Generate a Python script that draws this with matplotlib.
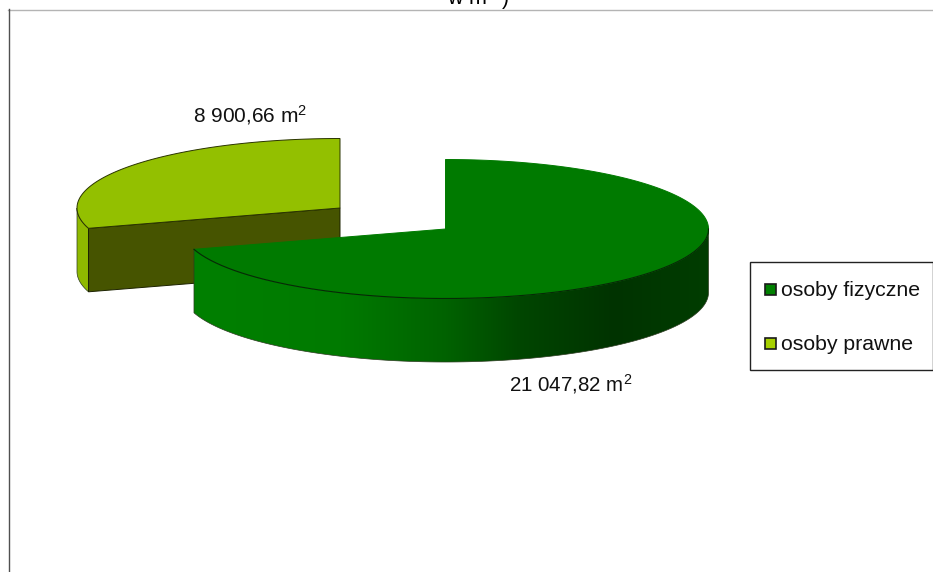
import numpy as np
import matplotlib
matplotlib.use('Agg')
import matplotlib.pyplot as plt
from matplotlib.colors import LinearSegmentedColormap
from matplotlib.patches import Polygon, Rectangle

plt.rcParams['font.family'] = ['Liberation Sans', 'DejaVu Sans']
plt.rcParams['mathtext.default'] = 'regular'

categories = ['osoby fizyczne', 'osoby prawne']
areas = [21047.82, 8900.66]
value_labels = ['21 047,82 m$^2$', '8 900,66 m$^2$']
title_tail = 'w m$^2$ )'

top_colors = ['#007a00', '#93c000']
legend_colors = ['#008000', '#a6d000']
cut_color = '#465400'
side_yellow = '#8fb900'

# pie geometry in pixels, second slice is pulled out to upper left
centers = [(445.5, 229), (340, 208)]
RX, RY, DEPTH = 263, 69.5, 63.5


def rim(center, start, stop, n=200):
    # angles clockwise from 12 o'clock
    ang = np.radians(np.linspace(start, stop, n))
    return center[0] + RX * np.sin(ang), center[1] - RY * np.cos(ang)


def outer_side(ax, center, start, stop, color):
    x, y = rim(center, start, stop)
    pts = np.r_[np.c_[x, y], np.c_[x[::-1], y[::-1] + DEPTH]]
    return ax.add_patch(Polygon(pts, closed=True, fc=color, ec='#2c3a20', lw=0.5))


def top_face(ax, center, start, stop, color, edge):
    x, y = rim(center, start, stop)
    pts = np.r_[[center], np.c_[x, y]]
    return ax.add_patch(Polygon(pts, closed=True, fc=color, ec=edge, lw=0.7))


fig = plt.figure(figsize=(9.33, 5.72), dpi=100)
ax = fig.add_axes([0, 0, 1, 1])
ax.set_xlim(0, 933)
ax.set_ylim(572, 0)
ax.axis('off')

# frame of the plot area
ax.plot([8, 933], [9.5, 9.5], color='#b4b4b4', lw=1)
ax.plot([8.5, 8.5], [9, 572], color='#505050', lw=1)

sweep = 360 * areas[0] / sum(areas)

# slice two, behind
c = centers[1]
outer_side(ax, c, sweep, 270, side_yellow)
x0, y0 = rim(c, sweep, sweep, 1)
face = [(x0[0], y0[0]), c, (c[0], c[1] + DEPTH), (x0[0], y0[0] + DEPTH)]
ax.add_patch(Polygon(face, closed=True, fc=cut_color, ec='#1c2200', lw=0.7))
top_face(ax, c, sweep, 360, top_colors[1], '#2a3400')

# slice one with shaded side
c = centers[0]
side = outer_side(ax, c, 90, sweep, 'none')
shade = LinearSegmentedColormap.from_list('side', [
    (0.0, '#008000'), (0.30, '#007a00'), (0.50, '#006200'), (0.64, '#004600'),
    (0.82, '#003300'), (1.0, '#003d00')])
grad = ax.imshow(np.linspace(0, 1, 256)[None, :], cmap=shade, aspect='auto',
                 extent=(c[0] - RX, c[0] + RX, 572, 0), zorder=1.5)
grad.set_clip_path(side)
side.set_zorder(1.6)
ax.set_xlim(0, 933)
ax.set_ylim(572, 0)
top_face(ax, c, 0, sweep, top_colors[0], top_colors[0]).set_zorder(1.7)
# only the front rim of the green top has a dark line
x1, y1 = rim(c, 90, sweep)
ax.plot(x1, y1, color='#062a06', lw=0.8, zorder=1.8)

# value labels
ax.text(250.5, 122, value_labels[1], fontsize=15, ha='center', va='baseline', color='#111111')
ax.text(571, 391, value_labels[0], fontsize=14.8, ha='center', va='baseline', color='#111111')

# cut off title line
ax.text(478.5, 5, title_tail, fontsize=15.5, ha='center', va='baseline', color='black')

# legend
ax.add_patch(Rectangle((749.5, 262), 183, 108, fc='white', ec='#222222', lw=1))
for name, col, y in zip(categories, legend_colors, [289, 343]):
    ax.add_patch(Rectangle((765, y - 5.5), 11, 11, fc=col, ec='#1a1a1a', lw=1.2))
    ax.text(781, y + 7.5, name, fontsize=15.3, ha='left', va='baseline', color='#111111')

fig.savefig('out.png', dpi=100)
